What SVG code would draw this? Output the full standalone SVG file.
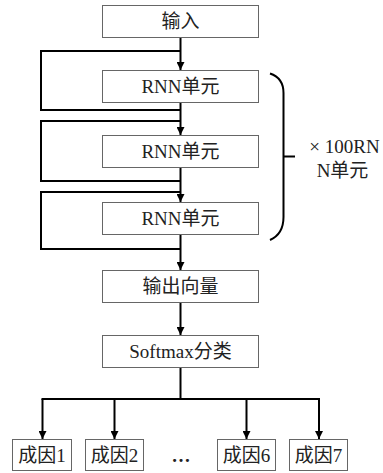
<svg xmlns="http://www.w3.org/2000/svg" width="383" height="473" viewBox="0 0 383 473">
<defs>
<marker id="ah" viewBox="0 0 8 8" refX="8" refY="4" markerWidth="8" markerHeight="8" markerUnits="userSpaceOnUse" orient="auto">
<path d="M0,0 L8,4 L0,8 Z" fill="#000"/>
</marker>
<style>
.box{fill:#fff;stroke:#666;stroke-width:1}
.t{font-family:"Liberation Serif","Noto Sans CJK SC",serif;font-size:19px;fill:#222;text-anchor:middle}
.c{fill:none;stroke:#000;stroke-width:2}
</style>
</defs>
<rect width="383" height="473" fill="#fff"/>
<g id="connectors">
<line class="c" x1="180.5" y1="38" x2="180.5" y2="70" marker-end="url(#ah)"/>
<line class="c" x1="180.5" y1="102" x2="180.5" y2="135" marker-end="url(#ah)"/>
<line class="c" x1="180.5" y1="167" x2="180.5" y2="202" marker-end="url(#ah)"/>
<line class="c" x1="180.5" y1="234" x2="180.5" y2="270" marker-end="url(#ah)"/>
<line class="c" x1="180.5" y1="303" x2="180.5" y2="335" marker-end="url(#ah)"/>
<path class="c" d="M180.5,110 H41 V51 H180.5"/>
<path class="c" d="M180.5,181 H41 V121 H180.5"/>
<path class="c" d="M180.5,249 H41 V192 H180.5"/>
<path class="c" d="M180.5,368 V399"/>
<path class="c" d="M42.5,400 V399 H319 V400"/>
<line class="c" x1="42.5" y1="399" x2="42.5" y2="439" marker-end="url(#ah)"/>
<line class="c" x1="114.5" y1="399" x2="114.5" y2="439" marker-end="url(#ah)"/>
<line class="c" x1="246.5" y1="399" x2="246.5" y2="439" marker-end="url(#ah)"/>
<line class="c" x1="319" y1="399" x2="319" y2="439" marker-end="url(#ah)"/>
</g>
<g id="brace">
<path class="c" d="M270,73.5 Q283.5,78 283.5,93 V217 Q283.5,234 270,240"/>
<path class="c" d="M283.5,156.5 H295"/>
<text class="t" x="344.5" y="153">× 100RN</text>
<text class="t" x="342.5" y="177">N单元</text>
</g>
<g id="n-input"><rect class="box" x="102.5" y="5.5" width="156" height="32"/><text class="t" x="180.5" y="28">输入</text></g>
<g id="n-rnn1"><rect class="box" x="102.5" y="70.5" width="156" height="32"/><text class="t" x="180.5" y="93">RNN单元</text></g>
<g id="n-rnn2"><rect class="box" x="102.5" y="135.5" width="156" height="32"/><text class="t" x="180.5" y="158">RNN单元</text></g>
<g id="n-rnn3"><rect class="box" x="102.5" y="202.5" width="156" height="32"/><text class="t" x="180.5" y="225">RNN单元</text></g>
<g id="n-output"><rect class="box" x="102.5" y="270.5" width="156" height="32"/><text class="t" x="180.5" y="293">输出向量</text></g>
<g id="n-softmax"><rect class="box" x="102.5" y="335.5" width="156" height="32"/><text class="t" x="180.5" y="358">Softmax分类</text></g>
<g id="n-c1"><rect class="box" x="12.5" y="439.5" width="59" height="31"/><text class="t" x="42" y="462">成因1</text></g>
<g id="n-c2"><rect class="box" x="85.5" y="439.5" width="58" height="31"/><text class="t" x="114.5" y="462">成因2</text></g>
<text class="t" x="181" y="462" font-weight="bold">…</text>
<g id="n-c6"><rect class="box" x="217.5" y="439.5" width="58" height="31"/><text class="t" x="246.5" y="462">成因6</text></g>
<g id="n-c7"><rect class="box" x="289.5" y="439.5" width="58" height="31"/><text class="t" x="318.5" y="462">成因7</text></g>
</svg>
